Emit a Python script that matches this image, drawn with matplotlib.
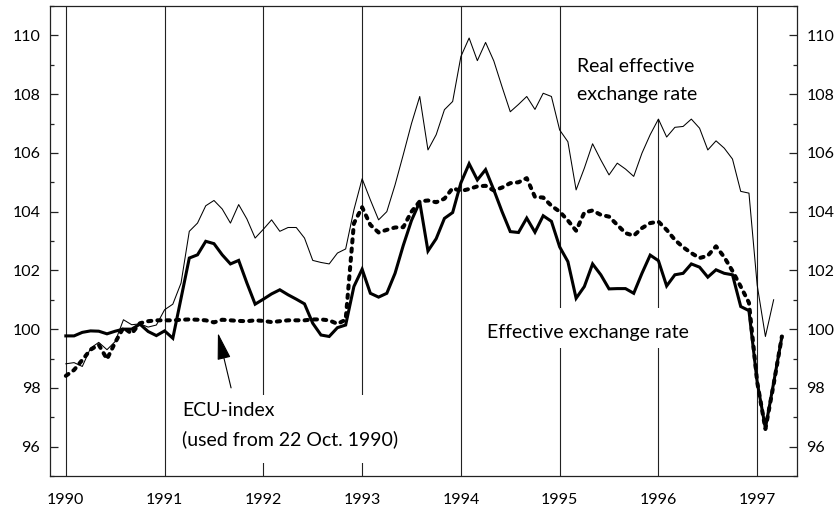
import matplotlib
matplotlib.use("Agg")
import matplotlib.pyplot as plt
from matplotlib.patches import Rectangle
from matplotlib.ticker import MultipleLocator
import numpy as np

plt.rcParams['font.family'] = ['Lato', 'DejaVu Sans']

# -------------------------------
# Monthly index values, Jan 1990 onwards
# -------------------------------
start_year = 1990

real_effective = [
    98.82, 98.86, 98.73, 99.35, 99.55, 99.30, 99.58, 100.32, 100.15, 100.18, 100.07, 100.14,
    100.66, 100.85, 101.57, 103.33, 103.61, 104.20, 104.38, 104.09, 103.61, 104.24, 103.75, 103.10,
    103.40, 103.72, 103.33, 103.46, 103.46, 103.10, 102.34, 102.27, 102.22, 102.59, 102.73, 104.06,
    105.12, 104.40, 103.72, 104.00, 104.91, 105.94, 107.00, 107.92, 106.10, 106.62, 107.47, 107.75,
    109.28, 109.91, 109.14, 109.76, 109.13, 108.25, 107.40, 107.65, 107.92, 107.48, 108.03, 107.92,
    106.78, 106.38, 104.74, 105.48, 106.31, 105.76, 105.25, 105.65, 105.45, 105.20, 105.99, 106.62,
    107.15, 106.54, 106.87, 106.90, 107.15, 106.84, 106.10, 106.41, 106.16, 105.79, 104.69, 104.63,
    101.50, 99.75, 101.00,
]

effective = [
    99.77, 99.77, 99.89, 99.94, 99.93, 99.84, 99.93, 100.00, 100.00, 100.17, 99.92, 99.78,
    99.94, 99.69, 101.05, 102.42, 102.53, 102.99, 102.91, 102.53, 102.22, 102.34, 101.57, 100.85,
    101.02, 101.20, 101.34, 101.17, 101.02, 100.86, 100.20, 99.80, 99.75, 100.05, 100.14, 101.45,
    102.04, 101.22, 101.09, 101.22, 101.90, 102.85, 103.70, 104.33, 102.66, 103.08, 103.77, 103.97,
    104.98, 105.63, 105.08, 105.43, 104.74, 104.00, 103.32, 103.29, 103.78, 103.30, 103.86, 103.67,
    102.80, 102.30, 101.05, 101.45, 102.22, 101.85, 101.37, 101.38, 101.38, 101.22, 101.90, 102.52,
    102.33, 101.47, 101.85, 101.90, 102.22, 102.11, 101.77, 102.02, 101.90, 101.85, 100.77, 100.63,
    98.20, 96.63, 98.17, 99.74,
]

ecu_index = [
    98.41, 98.61, 98.95, 99.30, 99.47, 98.98, 99.55, 100.05, 99.85, 100.20, 100.27, 100.30,
    100.30, 100.30, 100.32, 100.33, 100.32, 100.30, 100.23, 100.32, 100.30, 100.28, 100.27, 100.30,
    100.28, 100.24, 100.27, 100.30, 100.30, 100.30, 100.33, 100.33, 100.30, 100.18, 100.32, 103.60,
    104.15, 103.55, 103.29, 103.38, 103.46, 103.47, 104.00, 104.35, 104.38, 104.32, 104.44, 104.80,
    104.70, 104.77, 104.86, 104.88, 104.72, 104.82, 104.97, 105.00, 105.14, 104.50, 104.48, 104.20,
    104.00, 103.70, 103.35, 103.97, 104.04, 103.89, 103.83, 103.55, 103.27, 103.18, 103.44, 103.61,
    103.66, 103.38, 103.04, 102.79, 102.59, 102.42, 102.50, 102.82, 102.45, 101.98, 101.45, 100.90,
    98.20, 96.60, 98.12, 99.75,
]

years = [1990, 1991, 1992, 1993, 1994, 1995, 1996, 1997]


def month_axis(values):
    # decimal year for each monthly observation
    return start_year + np.arange(len(values)) / 12.0


# -------------------------------
# Figure and axes
# -------------------------------
fig = plt.figure(figsize=(8.38, 5.09), dpi=100)
ax = fig.add_axes([0.0597, 0.0648, 0.891, 0.9234])

ax.set_xlim(1989.84, 1997.40)
ax.set_ylim(95.0, 111.0)

# year separators
for yr in years:
    ax.axvline(yr, color='#222222', lw=0.8, zorder=1)

# white knock-outs behind the labels so the separators stop there
ax.add_patch(Rectangle((1991.11, 95.45), 2.38, 2.31, facecolor='white',
                       edgecolor='none', zorder=1.5))
ax.add_patch(Rectangle((1994.19, 99.36), 2.18, 1.36, facecolor='white',
                       edgecolor='none', zorder=1.5))
ax.add_patch(Rectangle((1995.10, 107.15), 1.32, 4.0, facecolor='white',
                       edgecolor='none', zorder=1.5))

# -------------------------------
# Series
# -------------------------------
ax.plot(month_axis(real_effective), real_effective, color='black', lw=0.75, zorder=3)
ax.plot(month_axis(effective), effective, color='black', lw=2.2,
        solid_joinstyle='miter', zorder=4)
ax.plot(month_axis(ecu_index), ecu_index, color='black', lw=2.9,
        linestyle=(0, (0.8, 1.5)), dash_capstyle='round', zorder=4)

# -------------------------------
# Labels
# -------------------------------
ax.text(1995.175, 108.77, 'Real effective', fontsize=14, va='baseline', zorder=5)
ax.text(1995.175, 107.81, 'exchange rate', fontsize=14, va='baseline', zorder=5)
ax.text(1994.264, 99.69, 'Effective exchange rate', fontsize=14, va='baseline', zorder=5)
ax.text(1991.18, 97.06, 'ECU-index', fontsize=14, va='baseline', zorder=5)
ax.text(1991.18, 96.06, '(used from 22 Oct. 1990)', fontsize=14, va='baseline', zorder=5)

ax.annotate('', xy=(1991.54, 99.87), xytext=(1991.673, 98.0),
            arrowprops=dict(arrowstyle='-|>,head_length=1.2,head_width=0.3',
                            mutation_scale=14, color='black', lw=0.8,
                            shrinkA=0, shrinkB=0),
            zorder=5)

# -------------------------------
# Ticks and frame
# -------------------------------
ax.set_xticks(years)
ax.set_xticklabels([str(y) for y in years])
ax.tick_params(axis='x', length=0, pad=12.5, labelsize=11.5)

ax.yaxis.set_major_locator(MultipleLocator(2))
ax.yaxis.set_minor_locator(MultipleLocator(1))
ax.set_yticks(range(96, 111, 2))
ax.tick_params(axis='y', which='both', direction='in', left=True, right=True,
               labelleft=True, labelright=True, width=0.9, color='#222222')
ax.tick_params(axis='y', which='major', length=6, pad=7, labelsize=11.5)
ax.tick_params(axis='y', which='minor', length=3)

for side in ['left', 'right', 'top', 'bottom']:
    ax.spines[side].set_color('#222222')
    ax.spines[side].set_linewidth(0.9)

fig.savefig('out.png', dpi=100)
